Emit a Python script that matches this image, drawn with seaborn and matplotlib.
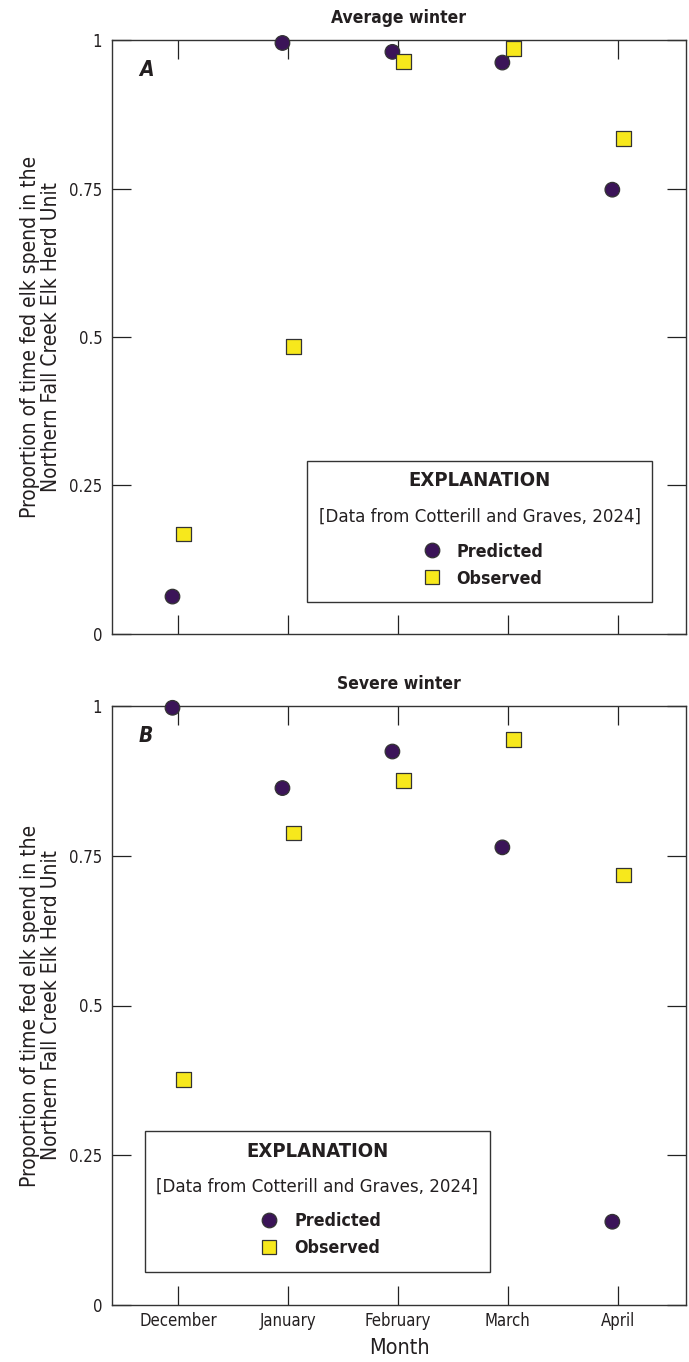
import matplotlib
matplotlib.use("Agg")
import matplotlib.pyplot as plt
from matplotlib.patches import Rectangle
import seaborn as sns
import pandas as pd

months = ["December", "January", "February", "March", "April"]
avg_predicted = [0.063, 0.995, 0.980, 0.962, 0.748]
avg_observed = [0.168, 0.484, 0.964, 0.986, 0.834]
sev_predicted = [0.997, 0.863, 0.924, 0.764, 0.139]
sev_observed = [0.376, 0.788, 0.876, 0.944, 0.718]
yticks = [0, 0.25, 0.5, 0.75, 1]
ytick_labels = ["0", "0.25", "0.5", "0.75", "1"]

sns.set_theme(style="white")
plt.rcParams["font.family"] = ["DejaVu Sans"]
plt.rcParams["font.stretch"] = "condensed"
TXT = "#231f20"
plt.rcParams["text.color"] = TXT
plt.rcParams["axes.labelcolor"] = TXT
plt.rcParams["xtick.color"] = TXT
plt.rcParams["ytick.color"] = TXT

PURPLE = "#3b1458"
YELLOW = "#f7e81c"
EDGE = "#333333"
offsets = {"Predicted": -0.05, "Observed": 0.05}


def make_df(pred, obs):
    rows = []
    for i, m in enumerate(months):
        rows.append({"month": m, "series": "Predicted", "value": pred[i],
                     "x": i + offsets["Predicted"]})
        rows.append({"month": m, "series": "Observed", "value": obs[i],
                     "x": i + offsets["Observed"]})
    return pd.DataFrame(rows)


fig = plt.figure(figsize=(6.89, 13.62), dpi=100)
W, H = 689, 1362
axA = fig.add_axes([112 / W, (H - 634) / H, 574 / W, 594 / H])
axB = fig.add_axes([112 / W, (H - 1305) / H, 574 / W, 599 / H])

panels = [
    (axA, avg_predicted, avg_observed, "Average winter", "A",
     (0.340, 0.054, 0.601, 0.237), 0.641),
    (axB, sev_predicted, sev_observed, "Severe winter", "B",
     (0.0575, 0.055, 0.6015, 0.235), 0.358),
]

for ax, pred, obs, title, letter, box, cx in panels:
    df = make_df(pred, obs)
    sns.scatterplot(data=df, x="x", y="value", hue="series", style="series",
                    hue_order=["Predicted", "Observed"],
                    style_order=["Predicted", "Observed"],
                    palette={"Predicted": PURPLE, "Observed": YELLOW},
                    markers={"Predicted": "o", "Observed": "s"},
                    s=110, edgecolor=EDGE, linewidth=0.9, ax=ax, zorder=3,
                    clip_on=False, legend=True)
    ax.set_xlim(-0.6, 4.62)
    ax.set_ylim(0, 1)
    ax.set_xticks(range(len(months)))
    ax.set_yticks(yticks)
    ax.set_yticklabels(ytick_labels)
    ax.tick_params(direction="in", length=14, width=0.9, top=True, right=True,
                   bottom=True, left=True, labelsize=12, pad=7,
                   color="#222222")
    ax.tick_params(axis="x", pad=5)
    for sp in ax.spines.values():
        sp.set_color("#333333")
        sp.set_linewidth(1.0)
    ax.set_title(title, fontsize=12.5, fontweight="bold", pad=12)
    ax.text(0.047, 0.95, letter, transform=ax.transAxes, fontsize=15,
            fontweight="bold", fontstyle="italic", va="center", ha="left")
    ax.set_ylabel("Proportion of time fed elk spend in the\nNorthern Fall Creek Elk Herd Unit",
                  fontsize=15, labelpad=6, linespacing=1.05)

    # explanation box
    bx, by, bw, bh = box
    ax.add_patch(Rectangle((bx, by), bw, bh, transform=ax.transAxes,
                           facecolor="white", edgecolor="#333333", lw=1.0,
                           zorder=4))
    ax.text(cx, by + bh - 0.033, "EXPLANATION", transform=ax.transAxes,
            ha="center", va="center", fontsize=14.5, fontweight="bold", zorder=5)
    ax.text(cx, by + bh - 0.093, "[Data from Cotterill and Graves, 2024]",
            transform=ax.transAxes, ha="center", va="center", fontsize=13.3,
            zorder=5)
    handles, labels = ax.get_legend_handles_labels()
    leg = ax.legend(handles, labels, loc="center", frameon=False,
                    bbox_to_anchor=(cx - 0.002, by + 0.062),
                    bbox_transform=ax.transAxes,
                    prop={"size": 12.8, "weight": "bold"},
                    handletextpad=0.4, labelspacing=0.5, markerscale=1.0,
                    borderpad=0)
    leg.set_zorder(6)

axA.set_xticklabels([])
axA.set_xlabel("")
axB.set_xticklabels(months)
axB.set_xlabel("Month", fontsize=15.5, labelpad=6)

fig.savefig("out.png", dpi=100)
